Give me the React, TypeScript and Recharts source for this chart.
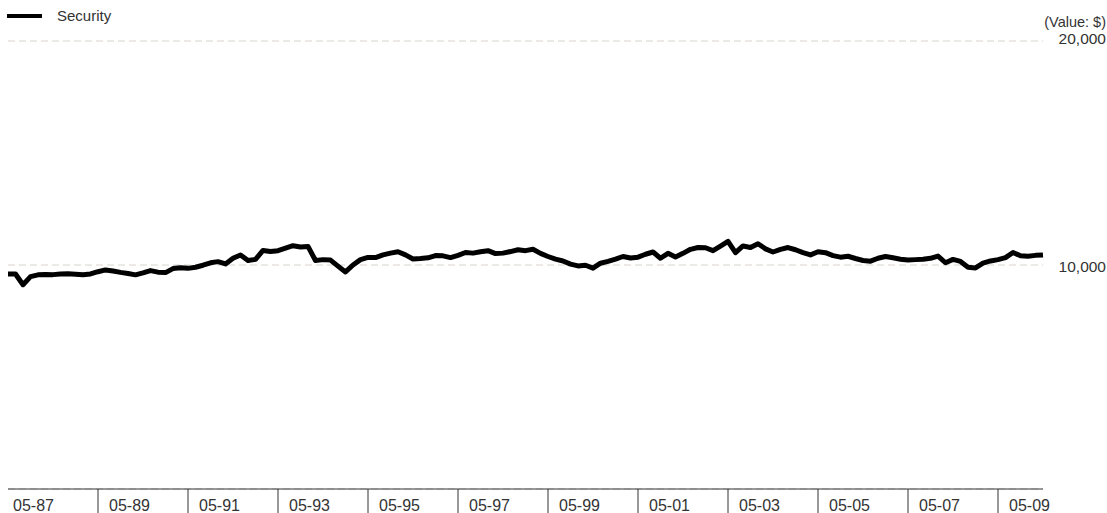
import { LineChart, Line, XAxis, YAxis, CartesianGrid, Legend } from "recharts";

const FONT = '"Liberation Sans", Arial, Helvetica, sans-serif';
const TEXT = "#333";

// bimonthly values (05-87 .. 05-10)
const VALUES_87_91 = [
  9600, 9600, 9120, 9480, 9560, 9580, 9570, 9600, 9610, 9590, 9560, 9600,
  9700, 9780, 9730, 9670, 9620, 9560, 9650, 9750, 9680, 9660, 9840, 9880,
];
const VALUES_91_95 = [
  9850, 9900, 9990, 10100, 10150, 10050, 10300, 10450, 10200, 10250, 10650, 10600,
  10640, 10750, 10860, 10800, 10830, 10200, 10240, 10220, 9950, 9690, 10000, 10240,
];
const VALUES_95_99 = [
  10340, 10330, 10450, 10530, 10590, 10450, 10270, 10290, 10320, 10420, 10410, 10330,
  10430, 10560, 10530, 10590, 10640, 10510, 10530, 10600, 10680, 10640, 10700, 10520,
];
const VALUES_99_03 = [
  10380, 10260, 10180, 10040, 9960, 9990, 9860, 10080, 10160, 10260, 10380, 10310,
  10350, 10480, 10580, 10300, 10520, 10360, 10520, 10700, 10780, 10770, 10640, 10840,
];
const VALUES_03_07 = [
  11050, 10550, 10850, 10780, 10950, 10720, 10580, 10700, 10780, 10680, 10550, 10450,
  10590, 10550, 10420, 10350, 10390, 10290, 10200, 10170, 10300, 10380, 10320, 10260,
];
const VALUES_07_10 = [
  10220, 10240, 10260, 10300, 10400, 10100, 10250, 10160, 9900, 9870, 10080, 10180,
  10240, 10330, 10560, 10410, 10390, 10430, 10450,
];

const VALUES = [
  ...VALUES_87_91, ...VALUES_91_95, ...VALUES_95_99,
  ...VALUES_99_03, ...VALUES_03_07, ...VALUES_07_10,
];

// "MM-YY" every second month starting 05-87
const DATES = VALUES.map((_, i) => {
  const m = 4 + 2 * i;
  const mon = (m % 12) + 1;
  const yr = (87 + Math.floor(m / 12)) % 100;
  return `${String(mon).padStart(2, "0")}-${String(yr).padStart(2, "0")}`;
});

const X_TICKS = [
  "05-87", "05-89", "05-91", "05-93", "05-95", "05-97",
  "05-99", "05-01", "05-03", "05-05", "05-07", "05-09",
];
const Y_TICKS = [10000, 20000];

const data = DATES.map((date, i) => ({ date, security: VALUES[i] }));

function DateTick(props: any) {
  const { x, payload } = props;
  const first = payload.value === X_TICKS[0];
  return (
    <g>
      {!first && <line x1={x} y1={489} x2={x} y2={513} stroke={TEXT} strokeWidth={1} />}
      <text x={first ? x + 5 : x + 11} y={511} fontSize={16} fill={TEXT} fontFamily={FONT}>
        {payload.value}
      </text>
    </g>
  );
}

function ValueTick(props: any) {
  const { y, payload } = props;
  const top = payload.value === 20000;
  return (
    <g>
      {top && (
        <text x={1106} y={y - 14} textAnchor="end" fontSize={14.5} fill={TEXT} fontFamily={FONT}>
          (Value: $)
        </text>
      )}
      <text x={1106} y={top ? y + 3 : y + 7} textAnchor="end" fontSize={15.5} fill={TEXT} fontFamily={FONT}>
        {payload.value.toLocaleString("en-US")}
      </text>
    </g>
  );
}

function LegendBox() {
  return (
    <div style={{ display: "flex", alignItems: "center", fontFamily: FONT, fontSize: 15, color: TEXT, whiteSpace: "nowrap" }}>
      <span style={{ display: "inline-block", width: 35, height: 4, background: "#000", marginRight: 15 }} />
      Security
    </div>
  );
}

export default function App() {
  return (
    <div style={{ position: "absolute", left: 0, top: 0, width: 1107, height: 513, background: "#fff" }}>
      <LineChart width={1107} height={513} data={data} margin={{ top: 41, right: 0, bottom: 0, left: 8 }}>
        <CartesianGrid vertical={false} stroke="#d9d4cc" strokeDasharray="7 4" />
        <XAxis
          dataKey="date"
          ticks={X_TICKS}
          interval={0}
          height={24}
          axisLine={{ stroke: TEXT }}
          tickLine={false}
          tick={<DateTick />}
        />
        <YAxis
          orientation="right"
          domain={[0, 20000]}
          ticks={Y_TICKS}
          width={64}
          axisLine={false}
          tickLine={false}
          tick={<ValueTick />}
        />
        <Legend
          verticalAlign="middle"
          align="center"
          layout="horizontal"
          wrapperStyle={{ top: 7, left: 7, width: "auto" }}
          content={() => <LegendBox />}
        />
        <Line
          type="linear"
          dataKey="security"
          stroke="#000"
          strokeWidth={5}
          strokeLinejoin="round"
          dot={false}
          isAnimationActive={false}
        />
      </LineChart>
    </div>
  );
}
